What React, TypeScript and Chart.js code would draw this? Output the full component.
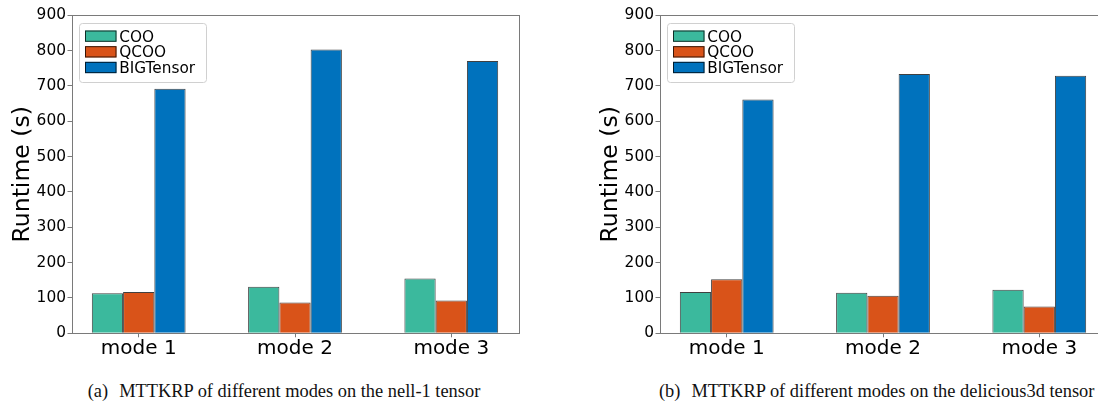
import { useEffect, useRef } from 'react';
import { Chart, registerables } from 'chart.js';

Chart.register(...registerables);

const categories = ['mode 1', 'mode 2', 'mode 3'];
const seriesNames = ['COO', 'QCOO', 'BIGTensor'];
const seriesColors = ['#3bb99d', '#d95319', '#0072bd'];
const yTicks = [0, 100, 200, 300, 400, 500, 600, 700, 800, 900];

const nellCOO = [113, 132, 155];
const nellQCOO = [117, 87, 93];
const nellBIG = [692, 803, 771];

const deliciousCOO = [117, 115, 123];
const deliciousQCOO = [153, 106, 76];
const deliciousBIG = [662, 734, 729];

const yTitle = 'Runtime (s)';
const captionA = ['(a)', 'MTTKRP of different modes on the nell-1 tensor'];
const captionB = ['(b)', 'MTTKRP of different modes on the delicious3d tensor'];

const FONT = '"DejaVu Sans", sans-serif';
const FRAME = '#7a7a7a';

const framePlugin = {
  id: 'frame',
  afterDatasetsDraw(chart: any) {
    const { ctx, chartArea } = chart;
    ctx.save();
    ctx.strokeStyle = FRAME;
    ctx.lineWidth = 1;
    ctx.strokeRect(
      Math.round(chartArea.left) + 0.5,
      Math.round(chartArea.top) + 0.5,
      Math.round(chartArea.right - chartArea.left),
      Math.round(chartArea.bottom - chartArea.top)
    );
    ctx.restore();
  },
};

const legendPlugin = {
  id: 'boxLegend',
  afterDraw(chart: any) {
    const { ctx, chartArea } = chart;
    const x0 = Math.round(chartArea.left + 7.5);
    const y0 = Math.round(chartArea.top + 8);
    const w = 127;
    const h = 59;
    ctx.save();
    ctx.beginPath();
    ctx.roundRect(x0 + 0.5, y0 + 0.5, w, h, 3);
    ctx.fillStyle = 'rgba(255,255,255,0.85)';
    ctx.fill();
    ctx.strokeStyle = '#d0d0d0';
    ctx.lineWidth = 1;
    ctx.stroke();
    chart.data.datasets.forEach((ds: any, i: number) => {
      const py = y0 + 7.5 + i * 15.67;
      ctx.fillStyle = ds.backgroundColor;
      ctx.fillRect(x0 + 6, py, 31.5, 11.3);
      ctx.strokeStyle = ds.borderColor;
      ctx.lineWidth = 1;
      ctx.strokeRect(x0 + 6.5, py + 0.5, 30.5, 10.3);
      ctx.fillStyle = '#000';
      ctx.font = `15.3px ${FONT}`;
      ctx.textBaseline = 'alphabetic';
      ctx.textAlign = 'left';
      ctx.fillText(ds.label, x0 + 40.3, py + 11.3);
    });
    ctx.restore();
  },
};

function makeConfig(series: number[][]): any {
  return {
    type: 'bar',
    data: {
      datasets: series.map((vals, si) => ({
        label: seriesNames[si],
        data: vals.map((v, i) => ({ x: i, y: v })),
        backgroundColor: seriesColors[si],
        borderColor: 'rgba(0,0,0,0.75)',
        borderWidth: 1,
        borderSkipped: 'bottom',
        categoryPercentage: 0.6,
        barPercentage: 1.0,
      })),
    },
    options: {
      responsive: false,
      animation: false,
      devicePixelRatio: 1,
      layout: { padding: { left: 0, top: 15.3, right: 30.5, bottom: 1.7 } },
      plugins: { legend: { display: false }, tooltip: { enabled: false } },
      scales: {
        x: {
          type: 'linear',
          min: -0.43,
          max: 2.43,
          offset: false,
          afterBuildTicks: (s: any) => {
            s.ticks = categories.map((_, i) => ({ value: i }));
          },
          ticks: {
            callback: (_v: any, i: number) => categories[i],
            font: { family: FONT, size: 20, lineHeight: 1 },
            color: '#000',
            padding: 1,
            maxRotation: 0,
            autoSkip: false,
          },
          grid: { offset: false, drawOnChartArea: false, tickLength: 4, color: FRAME, tickWidth: 1 },
          border: { display: false },
          afterFit: (s: any) => {
            s.height = 40;
          },
        },
        y: {
          min: 0,
          max: 900,
          afterBuildTicks: (s: any) => {
            s.ticks = yTicks.map((v) => ({ value: v }));
          },
          ticks: {
            font: { family: FONT, size: 15.4 },
            color: '#000',
            padding: 1.5,
          },
          grid: { drawOnChartArea: false, tickLength: 4, color: FRAME, tickWidth: 1 },
          border: { display: false },
          title: {
            display: true,
            text: yTitle,
            font: { family: FONT, size: 23.5, lineHeight: 1.2 },
            color: '#000',
            padding: { top: 8.6, bottom: 0 },
          },
          afterFit: (s: any) => {
            s.width = 71.5;
          },
        },
      },
    },
    plugins: [framePlugin, legendPlugin],
  };
}

function BarPanel({ series, left }: { series: number[][]; left: number }) {
  const ref = useRef<HTMLCanvasElement>(null);
  useEffect(() => {
    if (!ref.current) return;
    const chart = new Chart(ref.current, makeConfig(series));
    return () => chart.destroy();
  }, [series]);
  return (
    <canvas
      ref={ref}
      width={549}
      height={375}
      style={{ position: 'absolute', left, top: 0, width: 549, height: 375 }}
    />
  );
}

function Caption({ parts, center }: { parts: string[]; center: number }) {
  return (
    <div
      style={{
        position: 'absolute',
        left: center - 300,
        width: 600,
        top: 382.2,
        textAlign: 'center',
        whiteSpace: 'nowrap',
        fontFamily: '"Liberation Serif", serif',
        fontSize: 18.4,
        lineHeight: '18px',
        color: '#111',
      }}
    >
      <span style={{ marginRight: 11 }}>{parts[0]}</span>
      <span>{parts[1]}</span>
    </div>
  );
}

const seriesA = [nellCOO, nellQCOO, nellBIG];
const seriesB = [deliciousCOO, deliciousQCOO, deliciousBIG];

export default function App() {
  return (
    <div
      style={{
        position: 'fixed',
        left: 0,
        top: 0,
        width: 1098,
        height: 415,
        overflow: 'hidden',
        background: '#fff',
      }}
    >
      <BarPanel series={seriesA} left={0} />
      <BarPanel series={seriesB} left={588} />
      <Caption parts={captionA} center={284} />
      <Caption parts={captionB} center={876.7} />
    </div>
  );
}
